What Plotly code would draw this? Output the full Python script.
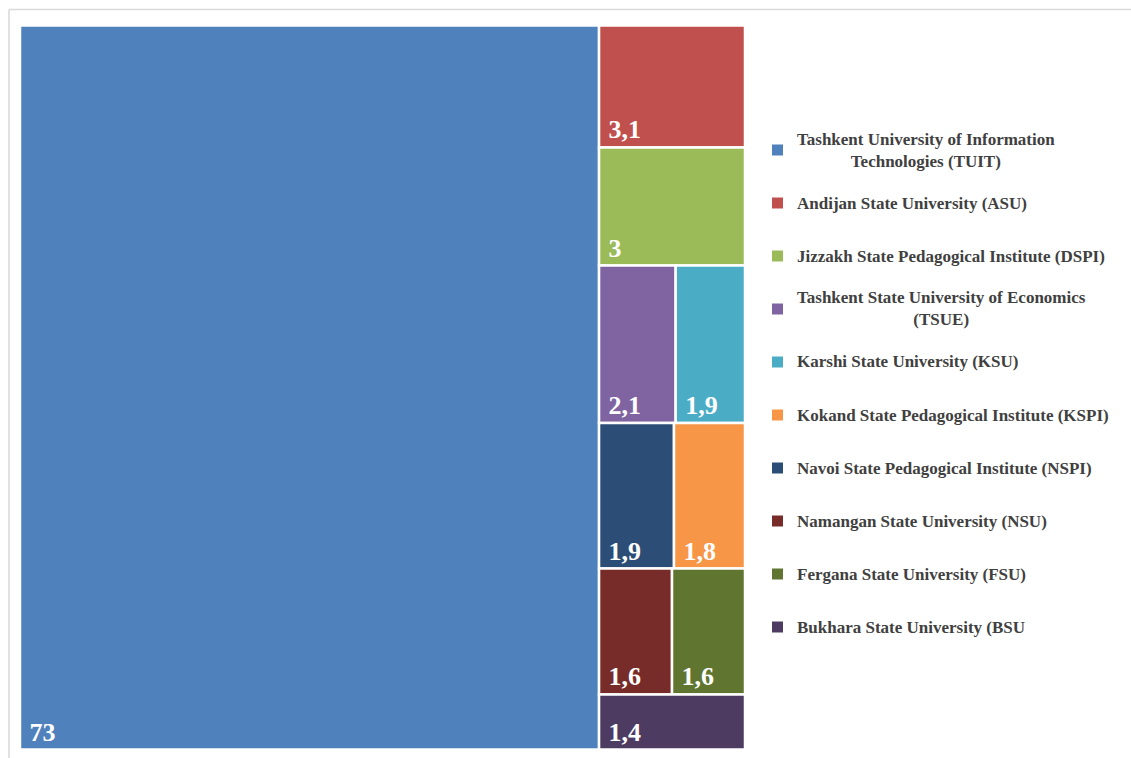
import plotly.graph_objects as go

W, H = 1131, 758

# ---- data ----
universities = [
    "Tashkent University of Information Technologies (TUIT)",
    "Andijan State University (ASU)",
    "Jizzakh State Pedagogical Institute (DSPI)",
    "Tashkent State University of Economics (TSUE)",
    "Karshi State University (KSU)",
    "Navoi State Pedagogical Institute (NSPI)",
    "Kokand State Pedagogical Institute (KSPI)",
    "Namangan State University (NSU)",
    "Fergana State University (FSU)",
    "Bukhara State University (BSU",
]
values = [73, 3.1, 3, 2.1, 1.9, 1.9, 1.8, 1.6, 1.6, 1.4]
value_labels = ["73", "3,1", "3", "2,1", "1,9", "1,9", "1,8", "1,6", "1,6", "1,4"]
colors = ["#4F81BD", "#C0504D", "#9BBB59", "#8064A2", "#4BACC6",
          "#2C4D75", "#F79646", "#772C2A", "#5F7530", "#4D3B62"]

# legend order (as in the reference)
legend_labels = [
    "Tashkent University of Information<br>Technologies (TUIT)",
    "Andijan State University (ASU)",
    "Jizzakh State Pedagogical Institute (DSPI)",
    "Tashkent State University of Economics<br>(TSUE)",
    "Karshi State University (KSU)",
    "Kokand State Pedagogical Institute (KSPI)",
    "Navoi State Pedagogical Institute (NSPI)",
    "Namangan State University (NSU)",
    "Fergana State University (FSU)",
    "Bukhara State University (BSU",
]
legend_colors = ["#4F81BD", "#C0504D", "#9BBB59", "#8064A2", "#4BACC6",
                 "#F79646", "#2C4D75", "#772C2A", "#5F7530", "#4D3B62"]

# ---- figure ----
def px_x(p):
    return p / W

def px_y(p):
    return 1 - p / H

fig = go.Figure(go.Treemap(
    labels=universities,
    parents=[""] * len(universities),
    values=values,
    customdata=value_labels,
    texttemplate="\u00a0%{customdata}",
    textposition="bottom left",
    textfont=dict(family="Liberation Serif", size=26, color="white", weight="bold"),
    marker=dict(colors=colors, line=dict(color="white", width=2.5),
                pad=dict(t=0, l=0, r=0, b=0)),
    tiling=dict(packing="squarify", squarifyratio=1.618, pad=0),
    pathbar=dict(visible=False),
    sort=False,
    hoverinfo="label+value",
    domain=dict(x=[px_x(20), px_x(745)], y=[px_y(749.5), px_y(25.5)]),
))

shapes = [
    # chart frame (top and left edges visible)
    dict(type="line", xref="paper", yref="paper", x0=px_x(9), x1=1.02, y0=px_y(9.5), y1=px_y(9.5),
         line=dict(color="#d9d9d9", width=1.5)),
    dict(type="line", xref="paper", yref="paper", x0=px_x(9), x1=px_x(9), y0=px_y(9.5), y1=-0.02,
         line=dict(color="#d9d9d9", width=1.5)),
]
annotations = []
y_first, step = 150, 53
for i, (lab, col) in enumerate(zip(legend_labels, legend_colors)):
    yc = y_first + i * step
    shapes.append(dict(type="rect", xref="paper", yref="paper",
                       x0=px_x(772), x1=px_x(783), y0=px_y(yc - 5.5), y1=px_y(yc + 5.5),
                       fillcolor=col, line=dict(width=0)))
    annotations.append(dict(xref="paper", yref="paper", x=px_x(795), y=px_y(yc),
                            xanchor="left", yanchor="middle", align="center",
                            text=lab, showarrow=False,
                            font=dict(family="Liberation Serif", size=17, color="#404040", weight="bold")))

fig.update_layout(
    width=W, height=H,
    margin=dict(l=0, r=0, t=0, b=0),
    paper_bgcolor="white",
    shapes=shapes,
    annotations=annotations,
    showlegend=False,
)

fig.write_html("out.html",
               config={"displayModeBar": False},
               post_script="document.body.style.margin='0';document.body.style.overflow='hidden';")
